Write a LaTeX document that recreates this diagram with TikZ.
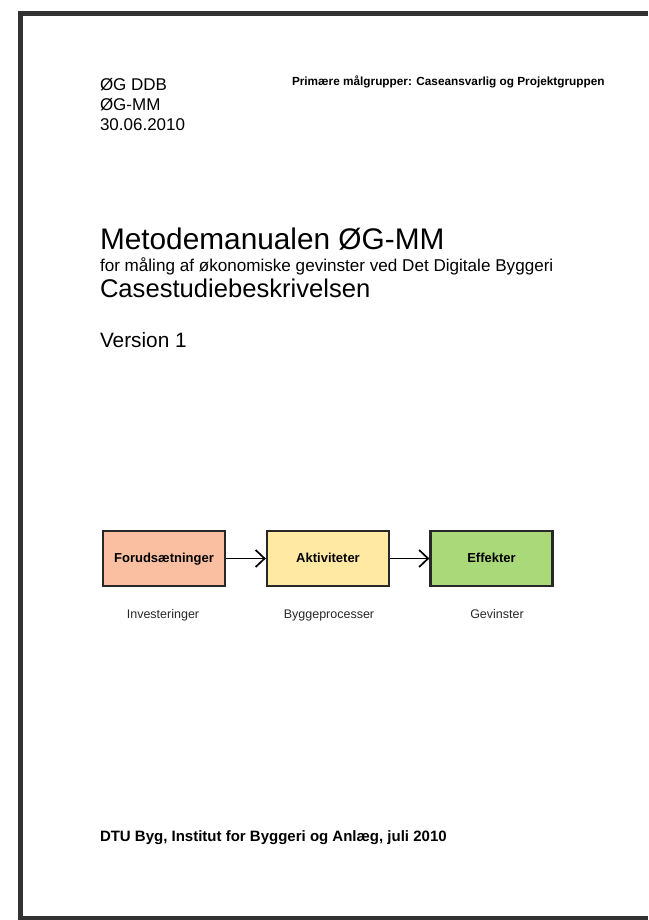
\documentclass[tikz,border=0pt]{standalone}
\usepackage{fontspec}
\setmainfont{Liberation Sans}
\usetikzlibrary{arrows.meta}
\definecolor{framecol}{RGB}{50,50,50}
\definecolor{boxline}{RGB}{40,40,40}
\definecolor{fillA}{RGB}{249,191,160}
\definecolor{fillB}{RGB}{255,233,163}
\definecolor{fillC}{RGB}{170,217,122}
\definecolor{labgray}{RGB}{40,40,40}
\begin{document}
\begin{tikzpicture}[x=1pt,y=-1pt,
  txt/.style={anchor=base west, inner sep=0pt, outer sep=0pt},
  stepbox/.style={draw=boxline, line width=2.3pt, minimum width=122pt, minimum height=55pt,
    inner sep=0pt, text height=10pt, text depth=3pt,
    font=\fontsize{13}{15}\selectfont\bfseries},
  lab/.style={anchor=base, inner sep=0pt, text=labgray, font=\fontsize{12.5}{15}\selectfont},
  conn/.style={line width=1.7pt, -{Straight Barb[length=9pt,width=17pt,line width=1.7pt]}}]
\useasboundingbox (0,0) rectangle (648,920);
% page frame
\fill[framecol] (18,11.5) rectangle (648,16);
\fill[framecol] (18,11.5) rectangle (23,920);
\fill[framecol] (18,916) rectangle (648,920);
% header
\node[txt, font=\fontsize{17}{20}\selectfont] (h1) at (100,91) {ØG DDB};
\node[txt, font=\fontsize{17}{20}\selectfont] (h2) at (100,111) {ØG-MM};
\node[txt, font=\fontsize{17}{20}\selectfont] (h3) at (100,131) {30.06.2010};
\node[txt, font=\fontsize{11.8}{14}\selectfont\bfseries] (tg) at (292,85.7) {Primære målgrupper: Caseansvarlig og Projektgruppen};
% titles
\node[txt, font=\fontsize{29.8}{34}\selectfont] (t1) at (100,249.3) {Metodemanualen ØG-MM};
\node[txt, font=\fontsize{17.1}{20}\selectfont] (t2) at (100,271) {for måling af økonomiske gevinster ved Det Digitale Byggeri};
\node[txt, font=\fontsize{25.6}{30}\selectfont] (t3) at (100,297.3) {Casestudiebeskrivelsen};
\node[txt, font=\fontsize{20.8}{24}\selectfont] (t4) at (100,347.3) {Version 1};
% diagram
\node[stepbox, fill=fillA] (a) at (164,558.5) {Forudsætninger};
\node[stepbox, fill=fillB] (b) at (328,558.5) {Aktiviteter};
\node[stepbox, fill=fillC] (c) at (491.5,558.5) {Effekter};
\draw[conn] (a.east) -- (b.west);
\draw[conn] (b.east) -- (c.west);
\node[lab] (la) at (163,618) {Investeringer};
\node[lab] (lb) at (329,618) {Byggeprocesser};
\node[lab] (lc) at (497,618) {Gevinster};
% footer
\node[txt, font=\fontsize{15}{18}\selectfont\bfseries] (ft) at (100,841) {DTU Byg, Institut for Byggeri og Anlæg, juli 2010};
\end{tikzpicture}
\end{document}
